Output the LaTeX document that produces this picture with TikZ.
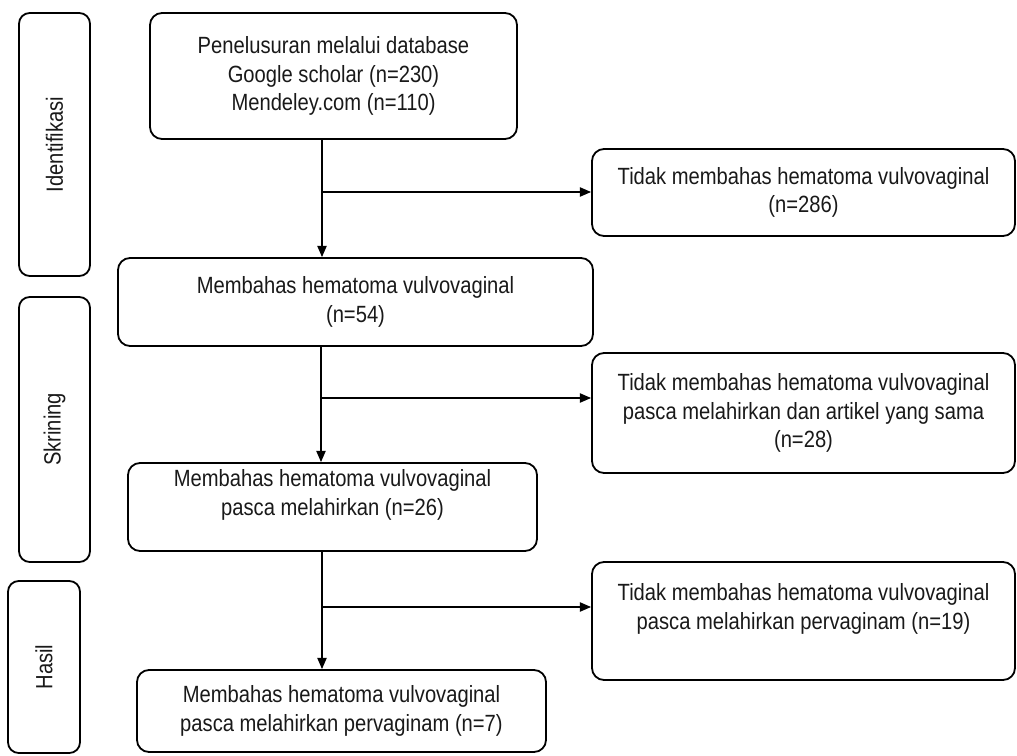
\documentclass[tikz,border=0pt]{standalone}
\usepackage{fontspec}
\setmainfont{Liberation Sans}[FakeStretch=0.86]
\usetikzlibrary{arrows.meta}
\begin{document}
\begin{tikzpicture}[x=0.75pt,y=-0.75pt,
  txt/.style={font=\fontsize{17.6}{21.4}\selectfont, text=black!90},
  box/.style={draw, line width=1.35pt, rounded corners=9pt, align=center, inner sep=0pt, txt},
  side/.style={box, rounded corners=8pt},
  arr/.style={line width=1.1pt, -{Triangle[length=8.5pt,width=7pt]}}]
\useasboundingbox (0,0) rectangle (1017,756);

% side boxes
\node[side, minimum width=53.25pt, minimum height=197.25pt] (id) at (54.5,144.5) {};
\node[txt, rotate=90] (idt) at (id.center) {Identifikasi};
\node[side, minimum width=53.25pt, minimum height=198.75pt] (sk) at (54.5,429.5) {};
\node[txt, rotate=90] (skt) at (sk.center) {Skrining};
\node[side, minimum width=54pt, minimum height=129pt] (ha) at (44,667) {};
\node[txt, rotate=90] (hat) at (ha.center) {Hasil};

% main column
\node[box, minimum width=275.25pt, minimum height=94.5pt] (b1) at (333.5,76)
  {Penelusuran melalui database\\Google scholar (n=230)\\Mendeley.com (n=110)};
\node[box, minimum width=356.25pt, minimum height=66pt] (b2) at (355.5,302)
  {Membahas hematoma vulvovaginal\\(n=54)};
\node[box, minimum width=306.75pt, minimum height=66pt] (b3) at (332.5,507)
  {Membahas hematoma vulvovaginal\\pasca melahirkan (n=26)\\\mbox{}};
\node[box, minimum width=306.75pt, minimum height=61.5pt] (b4) at (341.5,711)
  {Membahas hematoma vulvovaginal\\pasca melahirkan pervaginam (n=7)};

% right column
\node[box, minimum width=317.25pt, minimum height=65.25pt] (r1) at (803.5,192.5)
  {Tidak membahas hematoma vulvovaginal\\(n=286)};
\node[box, minimum width=317.25pt, minimum height=90pt] (r2) at (803.5,413)
  {Tidak membahas hematoma vulvovaginal\\pasca melahirkan dan artikel yang sama\\(n=28)};
\node[box, minimum width=317.25pt, minimum height=88.5pt] (r3) at (803.5,621)
  {Tidak membahas hematoma vulvovaginal\\pasca melahirkan pervaginam (n=19)\\\mbox{}};

% connectors
\coordinate (j1) at (322,192);
\coordinate (j2) at (321,398);
\coordinate (j3) at (322,607);
\draw[arr] (j1 |- b1.south) -- (j1 |- b2.north);
\draw[arr] (j1) -- (j1 -| r1.west);
\draw[arr] (j2 |- b2.south) -- (j2 |- b3.north);
\draw[arr] (j2) -- (j2 -| r2.west);
\draw[arr] (j3 |- b3.south) -- (j3 |- b4.north);
\draw[arr] (j3) -- (j3 -| r3.west);
\end{tikzpicture}
\end{document}
